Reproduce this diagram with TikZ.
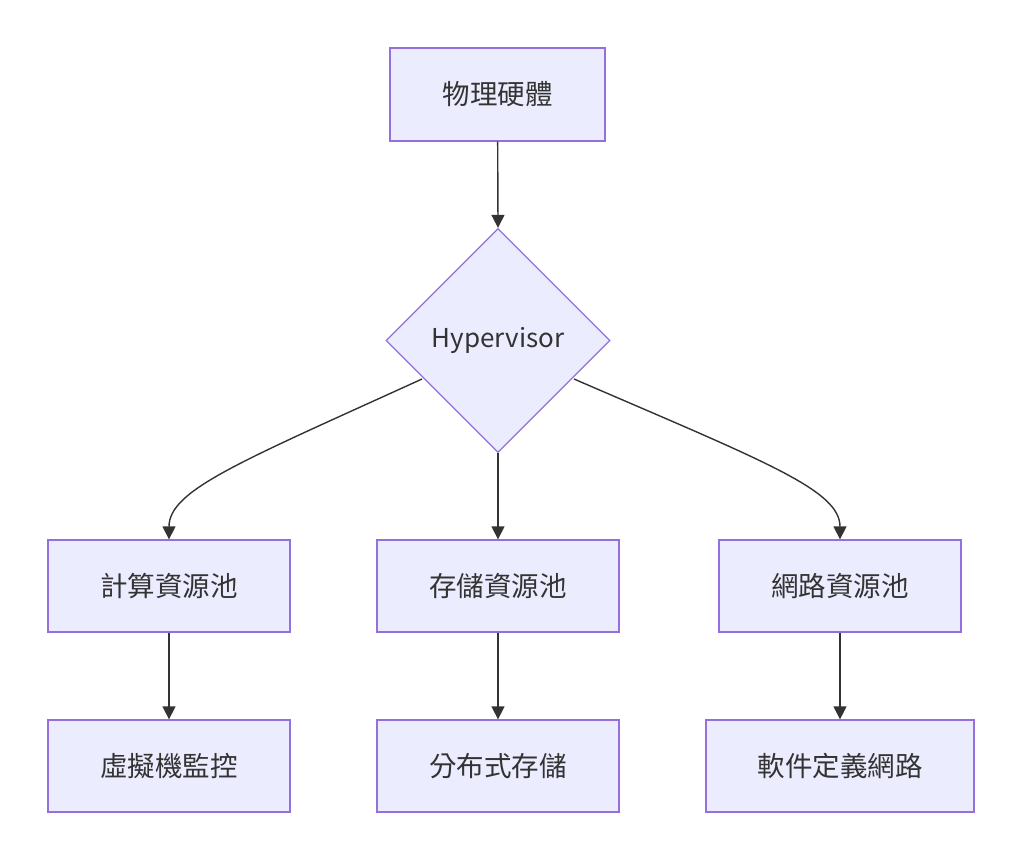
\documentclass[tikz,border=0pt]{standalone}
\usepackage{fontspec}
\setmainfont{Noto Sans CJK TC}
\usetikzlibrary{shapes.geometric,arrows.meta}
\definecolor{nodefill}{HTML}{ECECFF}
\definecolor{nodeline}{HTML}{9370DB}
\definecolor{ink}{HTML}{333333}
\begin{document}
\begin{tikzpicture}[x=1pt,y=-1pt,
  box/.style={draw=nodeline,fill=nodefill,line width=1.3pt,inner sep=0pt,text=ink,font=\fontsize{27.5}{32}\selectfont},
  flow/.style={draw=ink,line width=1.4pt,-{Triangle[length=13pt,width=13pt]}}]
\useasboundingbox (0,0) rectangle (1024,861);
\node[box,minimum width=215pt,minimum height=93pt] (hw) at (497.5,94.5) {物理硬體};
\node[box,diamond,aspect=1,minimum width=224pt,minimum height=224pt,font=\fontsize{26}{30}\selectfont] (hv) at (498,340.5) {Hypervisor};
\node[box,minimum width=242pt,minimum height=92pt] (cp) at (169,586) {計算資源池};
\node[box,minimum width=242pt,minimum height=92pt] (sp) at (498,586) {存儲資源池};
\node[box,minimum width=242pt,minimum height=92pt] (np) at (840,586) {網路資源池};
\node[box,minimum width=242pt,minimum height=92pt] (vm) at (169,766) {虛擬機監控};
\node[box,minimum width=242pt,minimum height=92pt] (ds) at (498,766) {分布式存儲};
\node[box,minimum width=268pt,minimum height=92pt] (sd) at (840,766) {軟件定義網路};
\coordinate (hvl) at (422,379);
\coordinate (hvr) at (574,379);
\draw[flow] (hw) -- (hv.north);
\draw[flow] (hvl) .. controls (240,462) and (169,490) .. (cp.north);
\draw[flow] (hv.south) -- (sp.north);
\draw[flow] (hvr) .. controls (766,462) and (840,490) .. (np.north);
\draw[flow] (cp) -- (vm);
\draw[flow] (sp) -- (ds);
\draw[flow] (np) -- (sd);
\end{tikzpicture}
\end{document}
